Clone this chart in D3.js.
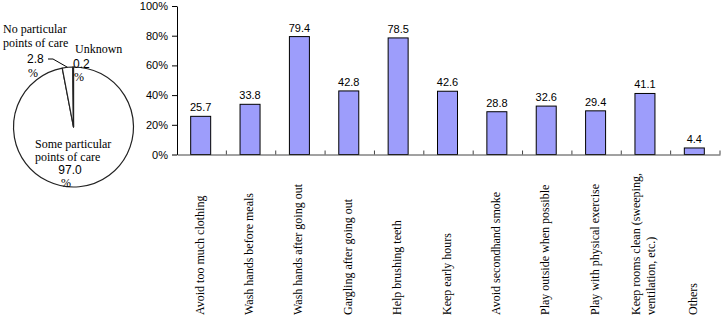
<!DOCTYPE html>
<html>
<head>
<meta charset="utf-8">
<script src="https://cdn.jsdelivr.net/npm/d3@7/dist/d3.min.js"></script>
<style>
html,body{margin:0;padding:0;background:#fff;}
svg{display:block;}
</style>
</head>
<body>
<svg id="c" width="724" height="326"></svg>
<script>
// ---- data ----
const pieLabels = ["Some particular points of care", "No particular points of care", "Unknown"];
const pieValues = [97.0, 2.8, 0.2];

const categories = [
  ["Avoid too much clothing"],
  ["Wash hands before meals"],
  ["Wash hands after going out"],
  ["Gargling after going out"],
  ["Help brushing teeth"],
  ["Keep early hours"],
  ["Avoid secondhand smoke"],
  ["Play outside when possible"],
  ["Play with physical exercise"],
  ["Keep rooms clean (sweeping,", "ventilation, etc.)"],
  ["Others"]
];
const barValues = [25.7, 33.8, 79.4, 42.8, 78.5, 42.6, 28.8, 32.6, 29.4, 41.1, 4.4];
const yTicks = [0, 20, 40, 60, 80, 100];

// ---- layout ----
const svg = d3.select("#c");
const serif = "'Liberation Serif', 'Times New Roman', serif";
const sans = "'Liberation Sans', Arial, sans-serif";

const x = d3.scaleBand().domain(d3.range(categories.length)).range([177, 720]).padding(0);
const y = d3.scaleLinear().domain([0, 100]).range([154.5, 6]);

// y axis
const yAxis = d3.axisLeft(y).tickValues(yTicks).tickFormat(d => d + "%").tickSize(5).tickSizeOuter(0);
const gy = svg.append("g").attr("transform", "translate(177,0)").call(yAxis);
gy.select(".domain").attr("stroke", "#000");
gy.selectAll(".tick line").attr("stroke", "#000");
gy.selectAll(".tick text").attr("font-family", sans).attr("font-size", 11).attr("fill", "#000").attr("x", -9);

// bars
const barW = x.bandwidth() * 0.405;
svg.append("g").selectAll("rect").data(barValues).join("rect")
  .attr("x", (d, i) => x(i) + (x.bandwidth() - barW) / 2 - 1)
  .attr("y", d => y(d))
  .attr("width", barW)
  .attr("height", d => y(0) - y(d))
  .attr("fill", "#9d9dfb")
  .attr("stroke", "#000")
  .attr("stroke-width", 1);

// x axis (line + inner ticks)
const xAxis = d3.axisBottom(x).tickValues([]).tickSizeOuter(0);
const gx = svg.append("g").attr("transform", `translate(0,${y(0)})`).call(xAxis);
gx.select(".domain").attr("stroke", "#444");
const edges = d3.range(categories.length + 1).map(i => 177 + i * x.step());
svg.append("g").selectAll("line").data(edges.slice(1)).join("line")
  .attr("x1", d => d).attr("x2", d => d)
  .attr("y1", y(0)).attr("y2", y(0) - 4)
  .attr("stroke", "#444");

// value labels
svg.append("g").selectAll("text").data(barValues).join("text")
  .attr("x", (d, i) => x(i) + x.bandwidth() / 2 - 1)
  .attr("y", d => y(d) - 5)
  .attr("text-anchor", "middle")
  .attr("font-family", sans).attr("font-size", 11)
  .text(d => d.toFixed(1));

// category labels (rotated)
const lineH = 15;
const cl = svg.append("g");
categories.forEach((lines, i) => {
  const cx = x(i) + x.bandwidth() / 2;
  lines.forEach((t, j) => {
    const off = (j - (lines.length - 1) / 2) * lineH + 2;
    cl.append("text")
      .attr("transform", `translate(${cx + off},315) rotate(-90)`)
      .attr("font-family", serif).attr("font-size", 12)
      .attr("text-anchor", "start")
      .text(t);
  });
});

// ---- pie ----
const pcx = 73.5, pcy = 127, pr = 60;
const pie = d3.pie().sort(null).value(d => d);
const arcs = pie(pieValues);
const arc = d3.arc().innerRadius(0).outerRadius(pr);
const pg = svg.append("g").attr("transform", `translate(${pcx},${pcy})`);
pg.selectAll("path").data(arcs).join("path")
  .attr("d", arc)
  .attr("fill", "#fff")
  .attr("stroke", "#222")
  .attr("stroke-width", 1.2)
  .attr("stroke-linejoin", "round");

// leader line for "No particular" slice
const a1 = (arcs[1].startAngle + arcs[1].endAngle) / 2;
const ex = pcx + Math.sin(a1) * pr, ey = pcy - Math.cos(a1) * pr;
svg.append("polyline")
  .attr("points", `48,59 53,59 ${ex},${ey}`)
  .attr("fill", "none").attr("stroke", "#000").attr("stroke-width", 1);

function txt(t, tx, ty, fam, anchor) {
  svg.append("text").attr("x", tx).attr("y", ty)
    .attr("font-family", fam).attr("font-size", 12)
    .attr("text-anchor", anchor || "start").text(t);
}
// No particular
txt("No particular", 3, 33, serif);
txt("points of care", 3, 47, serif);
txt(pieValues[1].toFixed(1), 27, 63, sans);
txt("%", 28, 77, serif);
// Unknown
txt(pieLabels[2], 75, 53, serif);
txt(pieValues[2].toFixed(1), 73, 68, sans);
txt("%", 74, 81, serif);
// Some particular
txt("Some particular", 35, 148, serif);
txt("points of care", 35, 161, serif);
txt(pieValues[0].toFixed(1), 70, 174, sans, "middle");
txt("%", 66, 187, serif, "middle");
</script>
</body>
</html>
